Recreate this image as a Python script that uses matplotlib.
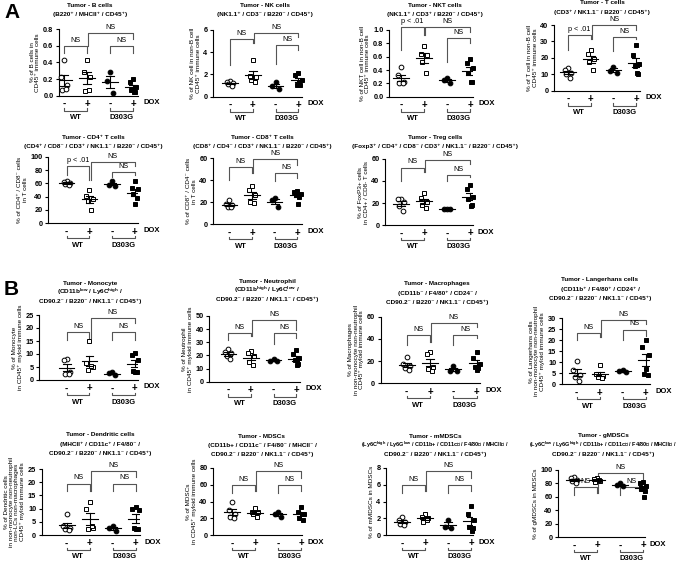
import numpy as np
import matplotlib.pyplot as plt

plt.rcParams['font.family'] = ['Liberation Sans', 'DejaVu Sans']
plt.rcParams['font.weight'] = 'bold'
plt.rcParams['mathtext.fontset'] = 'custom'
plt.rcParams['mathtext.bf'] = 'Liberation Sans:bold'
plt.rcParams['mathtext.rm'] = 'Liberation Sans:bold'

# ===== values: [WT -, WT +, D303G -, D303G +] =====
b_cells = [[0.43, 0.22, 0.13, 0.07, 0.08], [0.43, 0.29, 0.22, 0.06, 0.07],
           [0.29, 0.18, 0.03], [0.20, 0.17, 0.10, 0.07, 0.04, 0.05]]
nk_cells = [[1.4, 1.3, 1.2, 1.1, 1.0], [3.3, 1.85, 1.75, 1.5, 1.35],
            [1.3, 0.95, 0.65], [2.1, 1.95, 1.5, 1.05, 1.05, 1.35]]
nkt_cells = [[0.45, 0.32, 0.22, 0.20, 0.21], [0.76, 0.64, 0.63, 0.52, 0.35],
             [0.28, 0.25, 0.21], [0.57, 0.50, 0.43, 0.35, 0.22, 0.22]]
t_cells = [[14, 12.5, 11, 10, 8], [24.5, 22.5, 19, 17.5, 12.5],
           [14.5, 12, 11], [28, 22, 16.5, 15, 10, 11]]
cd4_cells = [[64, 62, 61, 59, 58], [50, 41, 36, 33, 20],
             [63, 58, 56], [64, 52.5, 51, 43.5, 37.5, 28.5]]
cd8_cells = [[22, 18.5, 17.5, 16, 15.5], [35, 31, 27, 20, 19],
             [24, 22, 16], [30, 29, 28, 27, 25, 18.5]]
treg_cells = [[24, 23.5, 20.5, 17, 12.5], [29, 24.5, 21, 18, 15.5],
              [14.3, 14.5, 14.2], [36, 33, 25, 24, 18, 17.5]]
monocyte = [[8.2, 7.6, 3.0, 2.3, 2.2], [15.0, 6.5, 5.0, 4.0, 5.5],
            [3.0, 2.7, 1.8], [10.5, 9.8, 7.7, 3.3, 3.2, 3.0]]
neutrophil = [[25, 22.5, 21.5, 19.5, 17], [23, 21.5, 19.5, 15, 13],
              [17, 16, 15.5], [24, 21, 18, 16.5, 13.5, 12.7]]
macrophage = [[24, 17, 16, 14, 12], [28.5, 26, 15, 12.5, 11.5],
              [15.5, 11.5, 11], [28.5, 23, 17.5, 15, 14, 12]]
langerhans = [[10.5, 6.5, 4.3, 3.2, 1.5], [8.7, 4.5, 4.0, 3.2, 3.0],
              [6.4, 5.9, 5.6], [20, 17, 13.5, 4.5, 4.2, 7]]
dendritic = [[7.8, 3.5, 2.8, 2.2, 2.0], [12.5, 10, 2.5, 2.2, 3.3],
             [3.5, 2.5, 1.5], [10.5, 9.7, 9.5, 2.7, 2.2, 2.4]]
mdsc = [[40, 30, 25, 22, 20], [32, 28, 27, 25, 22],
        [28, 25, 22], [33, 28, 25, 20, 18, 25]]
mmdsc = [[2.2, 1.8, 1.5, 1.3, 1.2], [2.5, 2.2, 2.0, 1.5, 1.8],
         [1.8, 1.0, 0.8], [3.5, 2.5, 1.8, 1.0, 0.8, 0.5]]
gmdsc = [[90, 88, 85, 83, 80], [88, 86, 84, 82, 85],
         [80, 78, 76], [82, 80, 76, 72, 68, 60]]

dox_labels = ['-', '+', '-', '+']
genotypes = ['WT', 'D303G']

W, H = 685, 565
fig = plt.figure(figsize=(W / 100, H / 100), dpi=100)

styles = [('o', 'white'), ('s', 'white'), ('o', 'black'), ('s', 'black')]
jit = [0.0, -0.14, 0.14, -0.07, 0.08, 0.03]


def bracket(ax, x1, x2, top, lb, rb, label, ymax):
    ax.plot([x1, x1, x2, x2], [lb * ymax, top * ymax, top * ymax, rb * ymax],
            color='#555555', lw=0.8, clip_on=False)
    ax.annotate(label, ((x1 + x2) / 2, top * ymax), xytext=(0, 1.5),
                textcoords='offset points', ha='center', va='bottom',
                fontsize=5.2, fontweight='normal', annotation_clip=False)


def panel(lay, title, tlay, ylabel, vals, ymax, step, fmt, br, wt_lab, tsize=4.6):
    al, c0, sp, ae, yt, yb = lay
    ax = fig.add_axes([al / W, 1 - yb / H, (ae - al) / W, (yb - yt) / H])
    ax.set_xlim((al - c0) / sp, (ae - c0) / sp)
    ax.set_ylim(0, ymax)
    for i, v in enumerate(vals):
        v = np.array(v, dtype=float)
        m, fc = styles[i]
        ax.plot(i + np.array(jit[:len(v)]), v, ls='none', marker=m, ms=3.4,
                mfc=fc, mec='black', mew=0.7, clip_on=False, zorder=3)
        mu = v.mean()
        se = v.std(ddof=1) / np.sqrt(len(v))
        ax.plot([i - 0.34, i + 0.34], [mu, mu], color='black', lw=0.8, zorder=4)
        ax.plot([i, i], [mu - se, mu + se], color='black', lw=0.8, zorder=4)
        for y in (mu - se, mu + se):
            ax.plot([i - 0.17, i + 0.17], [y, y], color='black', lw=0.8, zorder=4)
    wt, up, dd = br
    bracket(ax, 0, 1, *wt, wt_lab, ymax)
    bracket(ax, 1.05, 3, *up, 'NS', ymax)
    bracket(ax, 2, 3, *dd, 'NS', ymax)

    for s in ('top', 'right'):
        ax.spines[s].set_visible(False)
    for s in ('left', 'bottom'):
        ax.spines[s].set_linewidth(0.8)
    ticks = np.arange(0, ymax + step / 2, step)
    ax.set_yticks(ticks)
    ax.set_yticklabels([fmt.format(t) for t in ticks])
    ax.tick_params(axis='y', length=2.5, width=0.8, pad=1.5, labelsize=5.3)
    ax.set_xticks(range(4))
    ax.set_xticklabels(dox_labels, fontsize=7)
    ax.tick_params(axis='x', length=0, pad=2.5)
    ax.set_ylabel(ylabel, fontsize=4.6, labelpad=2, linespacing=1.1)

    h = yb - yt
    tr = ax.get_xaxis_transform()
    ax.text((ae - c0) / sp + 5 / sp, -7 / h, 'DOX', transform=tr,
            fontsize=5.5, va='center', ha='left')
    for g, x0 in enumerate((0, 2)):
        ax.plot([x0, x0, x0 + 1, x0 + 1], [-12.5 / h, -15 / h, -15 / h, -12.5 / h],
                transform=tr, color='#555555', lw=0.8, clip_on=False)
        ax.text(x0 + 0.5, -22 / h, genotypes[g], transform=tr, fontsize=5.5,
                ha='center', va='center')

    tx, ty = tlay
    for k, line in enumerate(title.split('\n')):
        fig.text(tx / W, 1 - (ty + 9.2 * k) / H, line, ha='center', va='center',
                 fontsize=tsize if k == 1 else 4.6)
    return ax


br_default = ((0.75, 0.62, 0.65), (0.95, 0.65, 0.85), (0.75, 0.62, 0.65))

panel((59, 64, 23, 138, 29.3, 95.7), 'Tumor - B cells\n(B220⁺ / MHCII⁺ / CD45⁺)', (90, 5.5),
      '% of B cells in\nCD45⁺ immune cells', b_cells, 0.8, 0.2, '{:.1f}',
      ((0.75, 0.64, 0.64), (0.95, 0.75, 0.86), (0.75, 0.64, 0.64)), 'NS')
panel((213, 230, 22.8, 302, 30, 96.7), 'Tumor - NK cells\n(NK1.1⁺ / CD3⁻ / B220⁻ / CD45⁺)', (265, 5.5),
      '% of NK cell in non-B cell\nCD45⁺ immune cells', nk_cells, 6, 2, '{:.0f}',
      ((0.86, 0.48, 0.80), (0.95, 0.80, 0.89), (0.775, 0.49, 0.70)), 'NS')
panel((389, 401, 23, 473, 30, 96.7), 'Tumor - NKT cells\n(NK1.1⁺ / CD3⁺ / B220⁻ / CD45⁺)', (435, 5.5),
      '% of NKT cell in non-B cell\nCD45⁺ immune cells', nkt_cells, 1.0, 0.2, '{:.1f}',
      ((1.05, 0.70, 0.925), (1.05, 0.925, 0.965), (0.875, 0.525, 0.80)), 'p < .01')
panel((554, 568, 22.7, 640, 25, 90.7), 'Tumor - T cells\n(CD3⁺ / NK1.1⁻ / B220⁻ / CD45⁺)', (602, 3),
      '% of T cell in non-B cell\nCD45⁺ immune cells', t_cells, 40, 10, '{:.0f}',
      ((0.85, 0.62, 0.78), (1.0, 0.78, 0.93), (0.82, 0.60, 0.78)), 'p < .01')
panel((48, 66.7, 22.7, 138, 156.7, 223.3),
      'Tumor - CD4⁺ T cells\n(CD4⁺ / CD8⁻ / CD3⁺ / NK1.1⁻ / B220⁻ / CD45⁺)', (93, 137),
      '% of CD4⁺ / CD8⁻ cells\nin T cells', cd4_cells, 100, 20, '{:.0f}',
      ((0.865, 0.72, 0.65), (0.925, 0.65, 0.865), (0.775, 0.70, 0.725)), 'p < .01')
panel((213, 229.3, 22.7, 302, 158.3, 224.3),
      'Tumor - CD8⁺ T cells\n(CD8⁺ / CD4⁻ / CD3⁺ / NK1.1⁻ / B220⁻ / CD45⁺)', (262, 137),
      '% of CD8⁺ / CD4⁻ cells\nin T cells', cd8_cells, 60, 20, '{:.0f}',
      ((0.87, 0.67, 0.77), (0.99, 0.77, 0.90), (0.77, 0.65, 0.70)), 'NS')
panel((385, 401, 23, 473, 159, 225),
      'Tumor - Treg cells\n(Foxp3⁺ / CD4⁺ / CD8⁻ / CD3⁺ / NK1.1⁻ / B220⁻ / CD45⁺)', (435, 137),
      '% of FoxP3+ cells\nin CD4+ / CD8- T cells', treg_cells, 60, 20, '{:.0f}',
      ((0.87, 0.66, 0.80), (0.98, 0.80, 0.92), (0.76, 0.66, 0.73)), 'NS')

panel((39.3, 66.7, 22.7, 138, 315, 380),
      'Tumor - Monocyte\n(CD11b$^{\\mathbf{low}}$ / Ly6C$^{\\mathbf{high}}$ /\nCD90.2⁻ / B220⁻ / NK1.1⁻ / CD45⁺)',
      (90, 283), '% of Monocyte\nin CD45⁺ myloid immune cells', monocyte, 25, 5, '{:.0f}',
      ((0.74, 0.62, 0.64), (0.95, 0.64, 0.87), (0.74, 0.62, 0.62)), 'NS')
panel((209.3, 228.3, 22.6, 300, 316, 381.7),
      'Tumor - Neutrophil\n(CD11b$^{\\mathbf{high}}$ / Ly6C$^{\\mathbf{low}}$ /\nCD90.2⁻ / B220⁻ / NK1.1⁻ / CD45⁺)',
      (267, 281), '% of Neutrophil\nin CD45⁺ myloid immune cells', neutrophil, 50, 10, '{:.0f}',
      ((0.74, 0.63, 0.69), (0.94, 0.69, 0.79), (0.74, 0.58, 0.66)), 'NS')
panel((380.7, 406.7, 23.3, 480, 316.7, 383.3),
      'Tumor - Macrophages\n(CD11b⁻ / F4/80⁺ / CD24⁻ /\nCD90.2⁻ / B220⁻ / NK1.1⁻ / CD45⁺)',
      (437, 284), '% of Macrophages\nin non-monocyte non-neutrophil\nCD45⁺ myloid immune cells',
      macrophage, 60, 20, '{:.0f}',
      ((0.72, 0.575, 0.625), (0.90, 0.625, 0.85), (0.72, 0.575, 0.675)), 'NS')
panel((561.7, 576.7, 23, 650, 318.3, 384.3),
      'Tumor - Langerhans cells\n(CD11b⁺ / F4/80⁺ / CD24⁺ /\nCD90.2⁻ / B220⁻ / NK1.1⁻ / CD45⁺)',
      (600, 280), '% of Langerhans cells\nin non-monocyte non-neutrophil\nCD45⁺ myloid immune cells',
      langerhans, 30, 5, '{:.0f}',
      ((0.78, 0.67, 0.71), (0.98, 0.71, 0.92), (0.83, 0.67, 0.73)), 'NS')

panel((41.7, 66.7, 23, 140, 469, 535),
      'Tumor - Dendritic cells\n(MHCII⁺ / CD11c⁺ / F4/80⁻ /\nCD90.2⁻ / B220⁻ / NK1.1⁻ / CD45⁺)',
      (100, 435),
      '% of Dendritic cells\nin non-monocyte non-neutrophil\nnon-LCs non-macrophages\nCD45⁺ myloid immune cells',
      dendritic, 25, 5, '{:.0f}',
      ((0.78, 0.66, 0.66), (0.97, 0.66, 0.88), (0.78, 0.66, 0.66)), 'NS')
panel((213, 232, 23, 302, 468, 535),
      'Tumor - MDSCs\n(CD11b+ / CD11c⁻ / F4/80⁻ / MHCII⁻ /\nCD90.2⁻ / B220⁻ / NK1.1⁻ / CD45⁺)',
      (262, 436), '% of MDSCs\nin CD45⁺ myloid immune cells', mdsc, 80, 20, '{:.0f}',
      br_default, 'NS')
panel((386, 402, 23, 473, 468, 535),
      'Tumor - mMDSCs\n(Ly6C$^{\\mathbf{high}}$ / Ly6G$^{\\mathbf{low}}$ / CD11b+ / CD11c⁻ / F4/80⁻ / MHCII⁻ /\nCD90.2⁻ / B220⁻ / NK1.1⁻ / CD45⁺)',
      (435, 436), '% of mMDSCs in MDSCs', mmdsc, 8, 2, '{:.0f}', br_default, 'NS', tsize=4.0)
panel((558, 574, 23, 645, 470, 537),
      'Tumor - gMDSCs\n(Ly6C$^{\\mathbf{low}}$ / Ly6G$^{\\mathbf{high}}$ / CD11b+ / CD11c⁻ / F4/80⁻ / MHCII⁻ /\nCD90.2⁻ / B220⁻ / NK1.1⁻ / CD45⁺)',
      (603, 436), '% of gMDSCs in MDSCs', gmdsc, 100, 20, '{:.0f}', br_default, 'NS', tsize=4.0)

fig.text(4 / W, 1 - 3 / H, 'A', fontsize=15, fontweight='bold', va='top')
fig.text(4 / W, 1 - 280 / H, 'B', fontsize=15, fontweight='bold', va='top')

fig.savefig('out.png', dpi=100)
